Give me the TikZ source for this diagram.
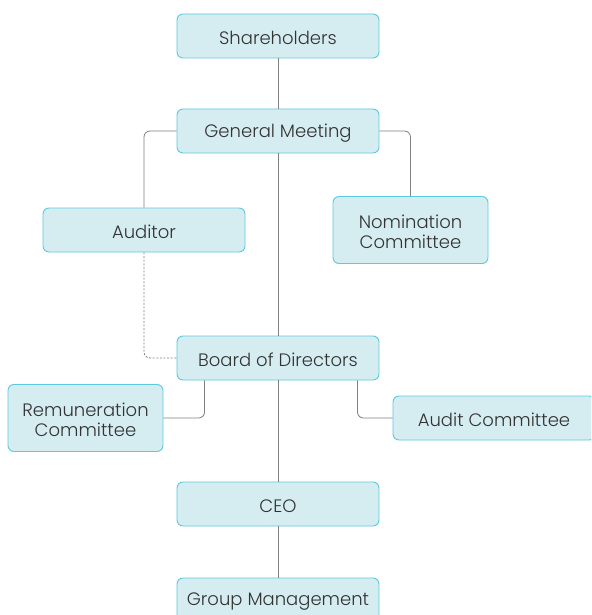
\documentclass[tikz,border=0pt]{standalone}
\usepackage{fontspec}
\setmainfont{Poppins}[UprightFont=* Light]
\definecolor{boxfill}{HTML}{D5ECF1}
\definecolor{boxline}{HTML}{5BCADF}
\definecolor{linkgray}{HTML}{808080}
\definecolor{txt}{HTML}{333333}
% set a line a little lower while keeping its reported extents
\newcommand\lowtext[1]{\raisebox{-2pt}[\height][\depth]{#1}}
\begin{document}
\begin{tikzpicture}[x=1pt,y=-1pt,
  orgbox/.style={draw=boxline, fill=boxfill, line width=0.9pt, rounded corners=6pt,
    minimum width=202pt, minimum height=44pt, inner sep=0pt, text=txt,
    font=\fontsize{18}{20.5}\selectfont, align=center},
  smallbox/.style={orgbox, minimum width=155pt, minimum height=67pt},
  link/.style={draw=linkgray, line width=0.8pt, rounded corners=6pt},
  dotlink/.style={link, dashed, dash pattern=on 2pt off 1.6pt}]
\clip (0,0) rectangle (591,615);
\fill[white] (0,0) rectangle (591,615);

\node[orgbox]   (sh)   at (278,36)  {\lowtext{Shareholders}};
\node[orgbox]   (gm)   at (278,131) {\lowtext{General Meeting}};
\node[orgbox]   (aud)  at (144,230) {\lowtext{Auditor}};
\node[smallbox] (nom)  at (410.5,230) {\lowtext{Nomination}\\\lowtext{Committee}};
\node[orgbox]   (bod)  at (278,358) {\lowtext{Board of Directors}};
\node[smallbox] (rem)  at (85.5,418) {\lowtext{Remuneration}\\\lowtext{Committee}};
\node[orgbox]   (ac)   at (494,418) {\lowtext{Audit Committee}};
\node[orgbox]   (ceo)  at (278,504) {\lowtext{CEO}};
\node[orgbox]   (grp)  at (278,600) {\lowtext{Group Management}};

\path[link] (sh.south) -- (gm.north);
\path[link] (gm.west) -| (aud.north);
\path[link] (gm.east) -| (nom.north);
\path[link] (gm.south) -- (bod.north);
\path[dotlink] (aud.south) |- (bod.west);
\path[link] ([xshift=28pt]bod.south west) |- (rem.east);
\path[link] ([xshift=-22pt]bod.south east) |- (ac.west);
\path[link] (bod.south) -- (ceo.north);
\path[link] (ceo.south) -- (grp.north);
\end{tikzpicture}
\end{document}
